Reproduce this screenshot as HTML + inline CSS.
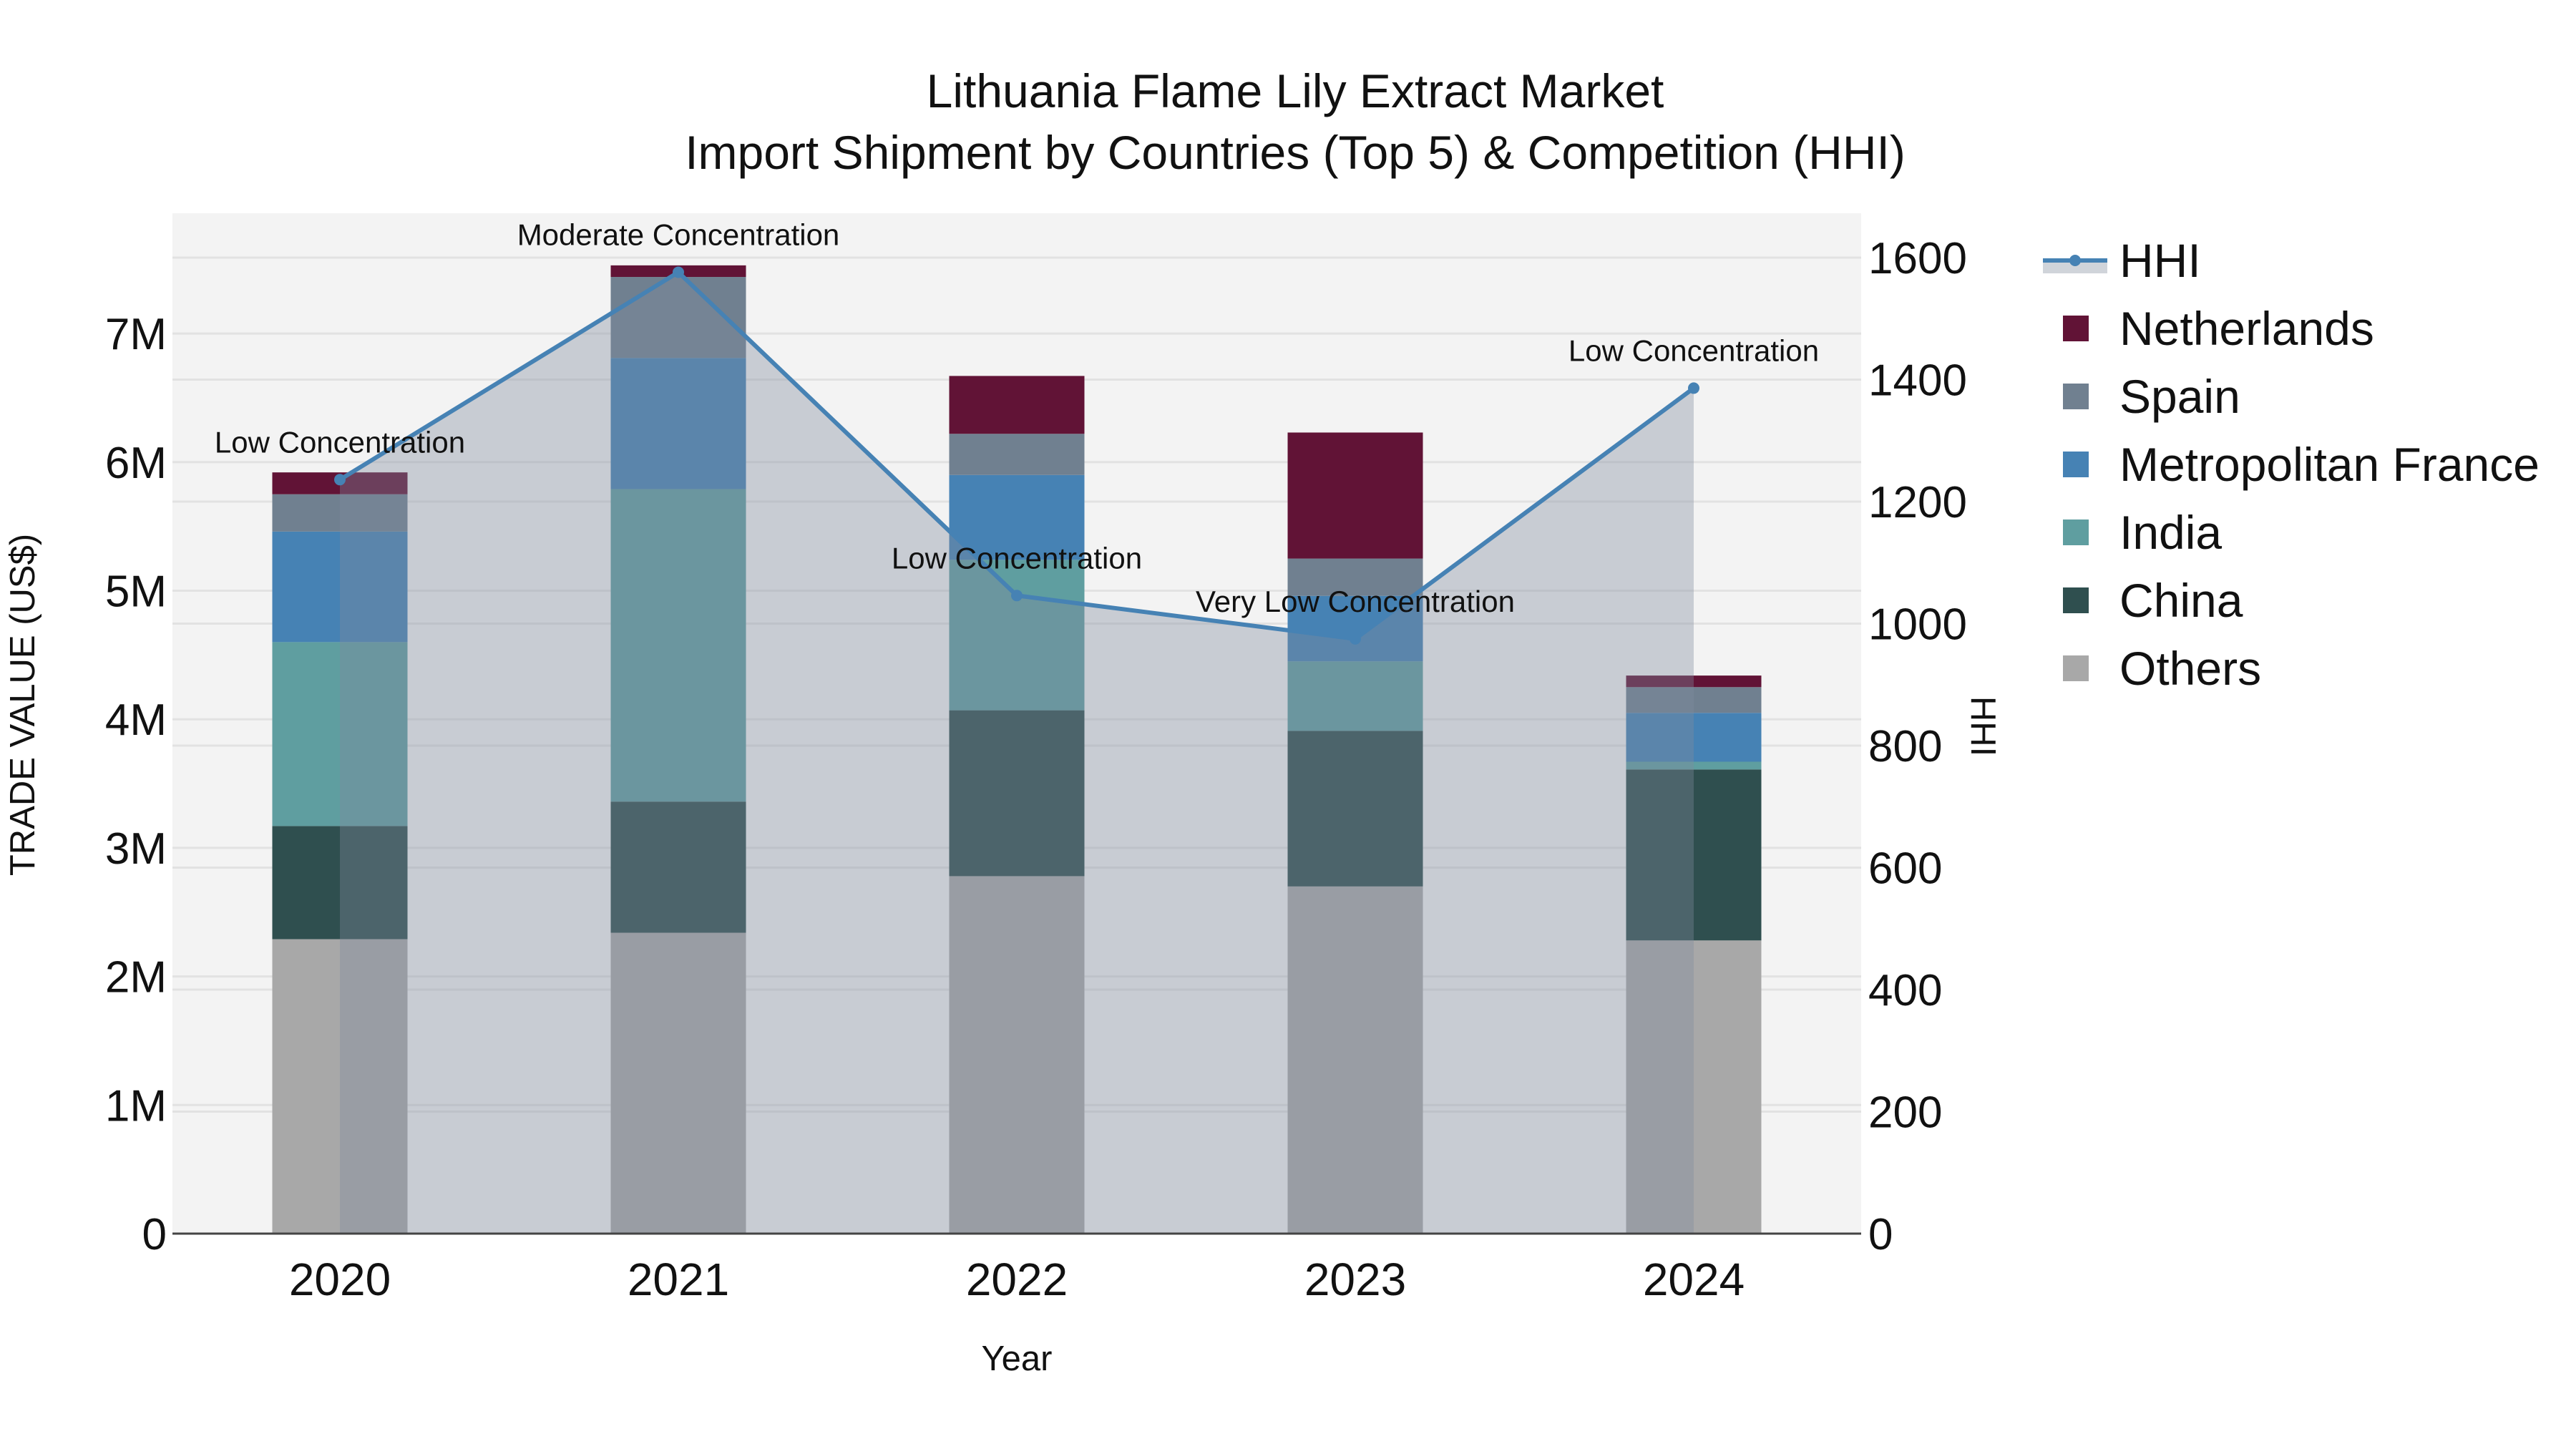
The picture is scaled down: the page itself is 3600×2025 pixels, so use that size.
<!DOCTYPE html>
<html><head><meta charset="utf-8"><style>
html,body{margin:0;padding:0;background:#fff}
svg{display:block}
text{font-family:"Liberation Sans",Arial,sans-serif;fill:#111}
</style></head><body>
<svg id="chart" width="3600" height="2025" viewBox="0 0 3600 2025" xmlns="http://www.w3.org/2000/svg">
<rect x="241" y="298" width="2360" height="1426" fill="#f3f3f3"/>
<g id="grid"></g><g id="bars"></g><g id="area"></g><g id="axes"></g><g id="legend"></g>
<text x="1810" y="150" font-size="66" text-anchor="middle">Lithuania Flame Lily Extract Market</text>
<text x="1810" y="236" font-size="66" text-anchor="middle">Import Shipment by Countries (Top 5) &amp; Competition (HHI)</text>
<text x="1421" y="1915" font-size="49" text-anchor="middle">Year</text>
<text transform="translate(48,985) rotate(-90)" font-size="49" text-anchor="middle">TRADE VALUE (US$)</text>
<text transform="translate(2755,1015) rotate(90)" font-size="49" text-anchor="middle">HHI</text>
</svg>
<script>
const years = ["2020","2021","2022","2023","2024"];
const others = [2.29, 2.34, 2.78, 2.70, 2.28];
const china = [0.88, 1.02, 1.29, 1.21, 1.33];
const india = [1.43, 2.43, 1.17, 0.54, 0.06];
const france = [0.86, 1.02, 0.66, 0.51, 0.38];
const spain = [0.29, 0.63, 0.32, 0.29, 0.20];
const netherlands = [0.17, 0.09, 0.45, 0.98, 0.09];
const hhi = [1236, 1576, 1046, 975, 1386];
const hhiLabels = ["Low Concentration","Moderate Concentration","Low Concentration","Very Low Concentration","Low Concentration"];
const yTicks = [0,1,2,3,4,5,6,7];
const yTickLabels = ["0","1M","2M","3M","4M","5M","6M","7M"];
const y2Ticks = [0,200,400,600,800,1000,1200,1400,1600];

const NS="http://www.w3.org/2000/svg";
const L=241,R=2601,T=298,B=1724;
const xStep=473, x0=475, bw=189;
function xs(i){return x0+i*xStep;}
function ys(v){return B-v*179.7;}
function y2s(v){return B-v*0.8525;}
function mk(tag,attrs,parent){const e=document.createElementNS(NS,tag);for(const k in attrs)e.setAttribute(k,attrs[k]);parent.appendChild(e);return e;}
const grid=document.getElementById('grid'),bars=document.getElementById('bars'),area=document.getElementById('area'),axes=document.getElementById('axes'),legend=document.getElementById('legend');

yTicks.forEach((t,i)=>{
  const g=mk('line',{x1:L,x2:R,y1:ys(t),y2:ys(t),stroke:'#e2e2e2','stroke-width':3},grid);
  
  
  const tx=mk('text',{x:L-8,y:ys(t)+22,'font-size':62,'text-anchor':'end'},axes);
  tx.textContent=yTickLabels[i];
  
  
});
y2Ticks.forEach(t=>{
  const g=mk('line',{x1:L,x2:R,y1:y2s(t),y2:y2s(t),stroke:'#e2e2e2','stroke-width':3},grid);
  
  
  const tx=mk('text',{x:R+10,y:y2s(t)+22,'font-size':62,'text-anchor':'start'},axes);
  tx.textContent=String(t);
  
  
});

const series=[
  {name:'others',vals:others,color:'#a8a8a8'},
  {name:'china',vals:china,color:'#2f4f4f'},
  {name:'india',vals:india,color:'#5f9ea0'},
  {name:'france',vals:france,color:'#4682b4'},
  {name:'spain',vals:spain,color:'#708090'},
  {name:'netherlands',vals:netherlands,color:'#611336'}
];
years.forEach((yr,i)=>{
  let base=0;
  series.forEach(s=>{
    const v=s.vals[i];
    const r=mk('rect',{x:xs(i)-bw/2,y:ys(base+v),width:bw,height:ys(base)-ys(base+v),fill:s.color},bars);
    
    
    base+=v;
  });
  const tx=mk('text',{x:xs(i),y:1810,'font-size':64,'text-anchor':'middle'},axes);
  tx.textContent=yr;
  
  
});

let d='M'+xs(0)+','+B;
hhi.forEach((v,i)=>{d+=' L'+xs(i)+','+y2s(v);});
d+=' L'+xs(hhi.length-1)+','+B+' Z';
const ar=mk('path',{d:d,fill:'rgb(128,138,157)','fill-opacity':0.37},area);


const pts=hhi.map((v,i)=>xs(i)+','+y2s(v)).join(' ');
const ln=mk('polyline',{points:pts,fill:'none',stroke:'#4682b4','stroke-width':6},area);


hhi.forEach((v,i)=>{
  const c=mk('circle',{cx:xs(i),cy:y2s(v),r:8,fill:'#4682b4'},area);
  
  
  const tx=mk('text',{x:xs(i),y:y2s(v)-38,'font-size':42,'text-anchor':'middle'},area);
  tx.textContent=hhiLabels[i];
  
  
});
const ax=mk('line',{x1:L,x2:R,y1:B,y2:B,stroke:'#444','stroke-width':3},axes);



const lg=[['HHI',null],['Netherlands','#611336'],['Spain','#708090'],['Metropolitan France','#4682b4'],['India','#5f9ea0'],['China','#2f4f4f'],['Others','#a8a8a8']];
lg.forEach((e,i)=>{
  const cy=364+i*95;
  const g=mk('g',{},legend);
  
  
  if(e[1]===null){
    mk('rect',{x:2855,y:cy,width:90,height:18,fill:'#d0d4da'},g);
    mk('line',{x1:2855,x2:2945,y1:cy,y2:cy,stroke:'#4682b4','stroke-width':6},g);
    mk('circle',{cx:2900,cy:cy,r:8,fill:'#4682b4'},g);
  } else {
    mk('rect',{x:2883,y:cy-18,width:36,height:36,fill:e[1]},g);
  }
  const t=mk('text',{x:2962,y:cy+23,'font-size':66},g);
  t.textContent=e[0];
});
</script>
</body></html>
